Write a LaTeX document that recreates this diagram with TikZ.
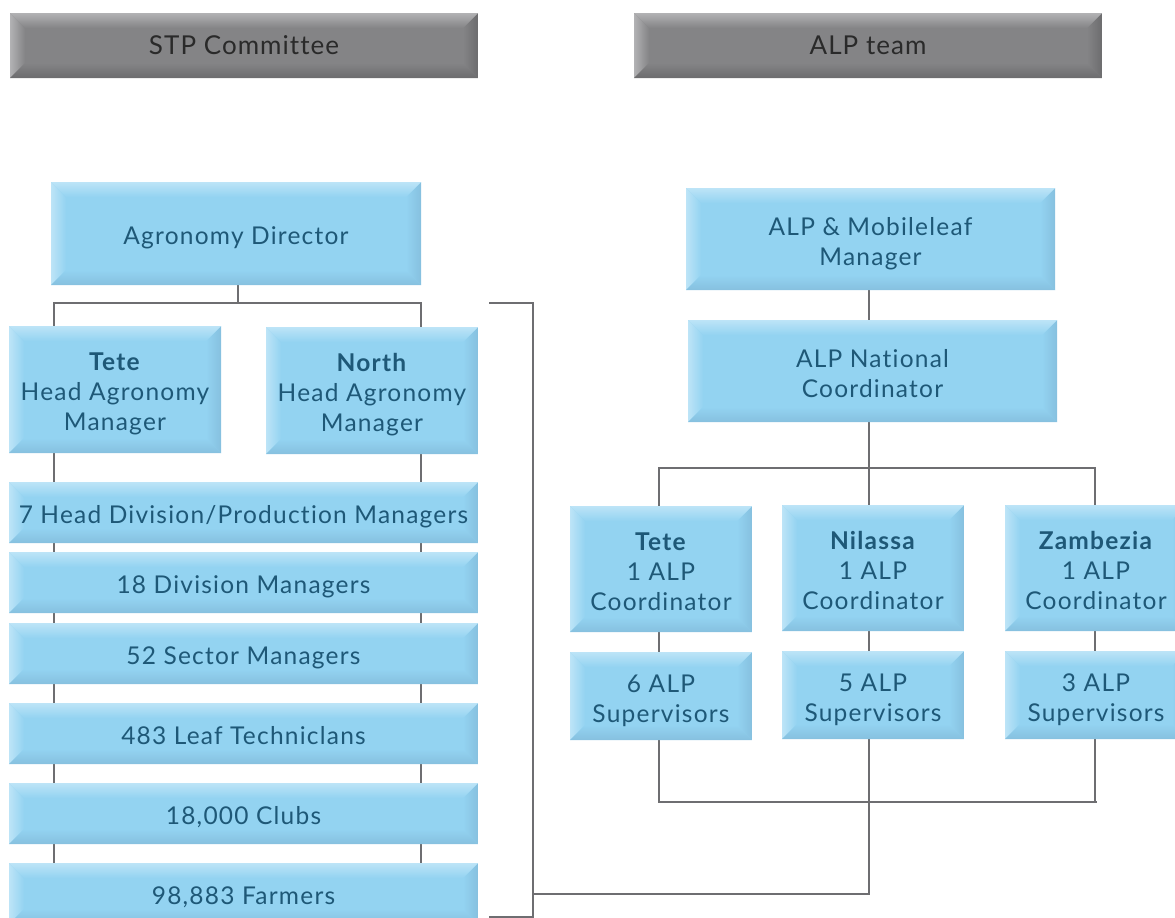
\documentclass[tikz,border=0pt]{standalone}
\usepackage{fontspec}
\setmainfont{Lato}[Ligatures=NoCommon]
\usetikzlibrary{calc,backgrounds}
\definecolor{bbase}{HTML}{93D3F1}
\definecolor{blight}{HTML}{BDE4F7}
\definecolor{bdark}{HTML}{86C0DF}
\definecolor{gbase}{HTML}{848486}
\definecolor{glight}{HTML}{B2B2B4}
\definecolor{gdark}{HTML}{6C6C6E}
\definecolor{txt}{HTML}{1E5877}
\definecolor{htxt}{HTML}{2A2A2A}
\definecolor{ln}{HTML}{6E6E71}
\newcommand{\bxt}[1]{\raisebox{-5pt}[\height][\depth]{\begin{tabular}{@{}c@{}}#1\end{tabular}}}
\tikzset{
  bevel/.style n args={3}{path picture={
    \coordinate (nw) at (path picture bounding box.north west);
    \coordinate (ne) at (path picture bounding box.north east);
    \coordinate (sw) at (path picture bounding box.south west);
    \coordinate (se) at (path picture bounding box.south east);
    \fill[#1] (nw) rectangle (se);
    \shade[left color=#2, right color=#1] (nw) -- ([xshift=15pt,yshift=-15pt]nw) -- ([xshift=15pt,yshift=15pt]sw) -- (sw) -- cycle;
    \shade[left color=#1, right color=#3] (ne) -- ([xshift=-15pt,yshift=-15pt]ne) -- ([xshift=-15pt,yshift=15pt]se) -- (se) -- cycle;
    \shade[top color=#2, bottom color=#1] (nw) -- (ne) -- ([xshift=-15pt,yshift=-15pt]ne) -- ([xshift=15pt,yshift=-15pt]nw) -- cycle;
    \shade[top color=#1, bottom color=#3] (sw) -- (se) -- ([xshift=-15pt,yshift=15pt]se) -- ([xshift=15pt,yshift=15pt]sw) -- cycle;
  }},
  box/.style={rectangle, inner sep=0pt, align=center, text=txt,
    bevel={bbase}{blight}{bdark},
    font=\fontsize{24.5}{30}\selectfont\addfontfeatures{LetterSpace=5}},
  hdr/.style={rectangle, inner sep=0pt, align=center, text=htxt,
    bevel={gbase}{glight}{gdark}, minimum width=468, minimum height=65,
    font=\fontsize{26}{30}\selectfont\addfontfeatures{LetterSpace=4}},
  wide/.style={box, minimum width=469, minimum height=61},
  coord/.style={box, minimum width=182, minimum height=126},
  superv/.style={box, minimum width=182, minimum height=88},
  conn/.style={draw=ln, line width=2.6pt}
}
\begin{document}
\begin{tikzpicture}[x=1pt,y=-1pt]
\useasboundingbox (0,0) rectangle (1175,918);
% headers
\node[hdr] (stp) at (244,45.5) {STP Committee};
\node[hdr] (alpteam) at (868,45.5) {ALP team};
% left tree
\node[box, minimum width=370, minimum height=103] (ad) at (236,233.5) {\bxt{Agronomy Director}};
\node[box, minimum width=212, minimum height=127] (tete) at (115,389.5) {\bxt{\textbf{Tete}\\Head Agronomy\\Manager}};
\node[box, minimum width=212, minimum height=127] (north) at (372,390.5) {\bxt{\textbf{North}\\Head Agronomy\\Manager}};
\node[wide] (r1) at (243.5,512.5) {\bxt{7 Head Division/Production Managers}};
\node[wide] (r2) at (243.5,582.5) {\bxt{18 Division Managers}};
\node[wide] (r3) at (243.5,653.5) {\bxt{52 Sector Managers}};
\node[wide] (r4) at (243.5,733.5) {\bxt{483 Leaf Techniclans}};
\node[wide] (r5) at (243.5,813.5) {\bxt{18,000 Clubs}};
\node[wide] (r6) at (243.5,893.5) {\bxt{98,883 Farmers}};
% right tree
\node[box, minimum width=369, minimum height=102] (mgr) at (870.5,239) {\bxt{ALP \& Mobileleaf\\Manager}};
\node[box, minimum width=369, minimum height=102] (natl) at (872.5,371) {\bxt{ALP National\\Coordinator}};
\node[coord] (c1) at (661,569) {\bxt{\textbf{Tete}\\1 ALP\\Coordinator}};
\node[coord] (c2) at (873,568) {\bxt{\textbf{Nilassa}\\1 ALP\\Coordinator}};
\node[coord] (c3) at (1096,568) {\bxt{\textbf{Zambezia}\\1 ALP\\Coordinator}};
\node[superv] (s1) at (661,696) {\bxt{6 ALP\\Supervisors}};
\node[superv] (s2) at (873,695) {\bxt{5 ALP\\Supervisors}};
\node[superv] (s3) at (1096,695) {\bxt{3 ALP\\Supervisors}};
% connectors
\coordinate (lbar) at (238,303);
\coordinate (rbar) at (869,468);
\coordinate (bot) at (869,802);
\coordinate (br1) at (489,303);
\coordinate (br2) at (533,303);
\coordinate (br3) at (533,917);
\coordinate (br4) at (489,917);
\coordinate (brm) at (533,894);
\begin{scope}[on background layer]
\draw[conn] (ad.south -| lbar) -- (lbar);
\draw[conn] (r6.north -| 54,0) -- (54,303) -- (421,303) -- (r6.north -| 421,0);
\draw[conn] (br1) -- (br2) -- (br3) -- (br4);
\draw[conn] (brm) -- (brm -| bot) -- (bot);
\draw[conn] (mgr.south -| rbar) -- (natl.north -| rbar);
\draw[conn] (natl.south -| rbar) -- (rbar);
\draw[conn] (c1.north -| 659,0) -- (659,468) -- (1095,468) -- (c3.north -| 1095,0);
\draw[conn] (rbar) -- (c2.north -| rbar);
\draw[conn] (c1.south -| 659,0) -- (s1.north -| 659,0);
\draw[conn] (c2.south -| rbar) -- (s2.north -| rbar);
\draw[conn] (c3.south -| 1095,0) -- (s3.north -| 1095,0);
\draw[conn] (s1.south -| 659,0) -- (659,802) -- (1097,802);
\draw[conn] (s2.south -| rbar) -- (bot);
\draw[conn] (s3.south -| 1095,0) -- (1095,802);
\end{scope}
\end{tikzpicture}
\end{document}
